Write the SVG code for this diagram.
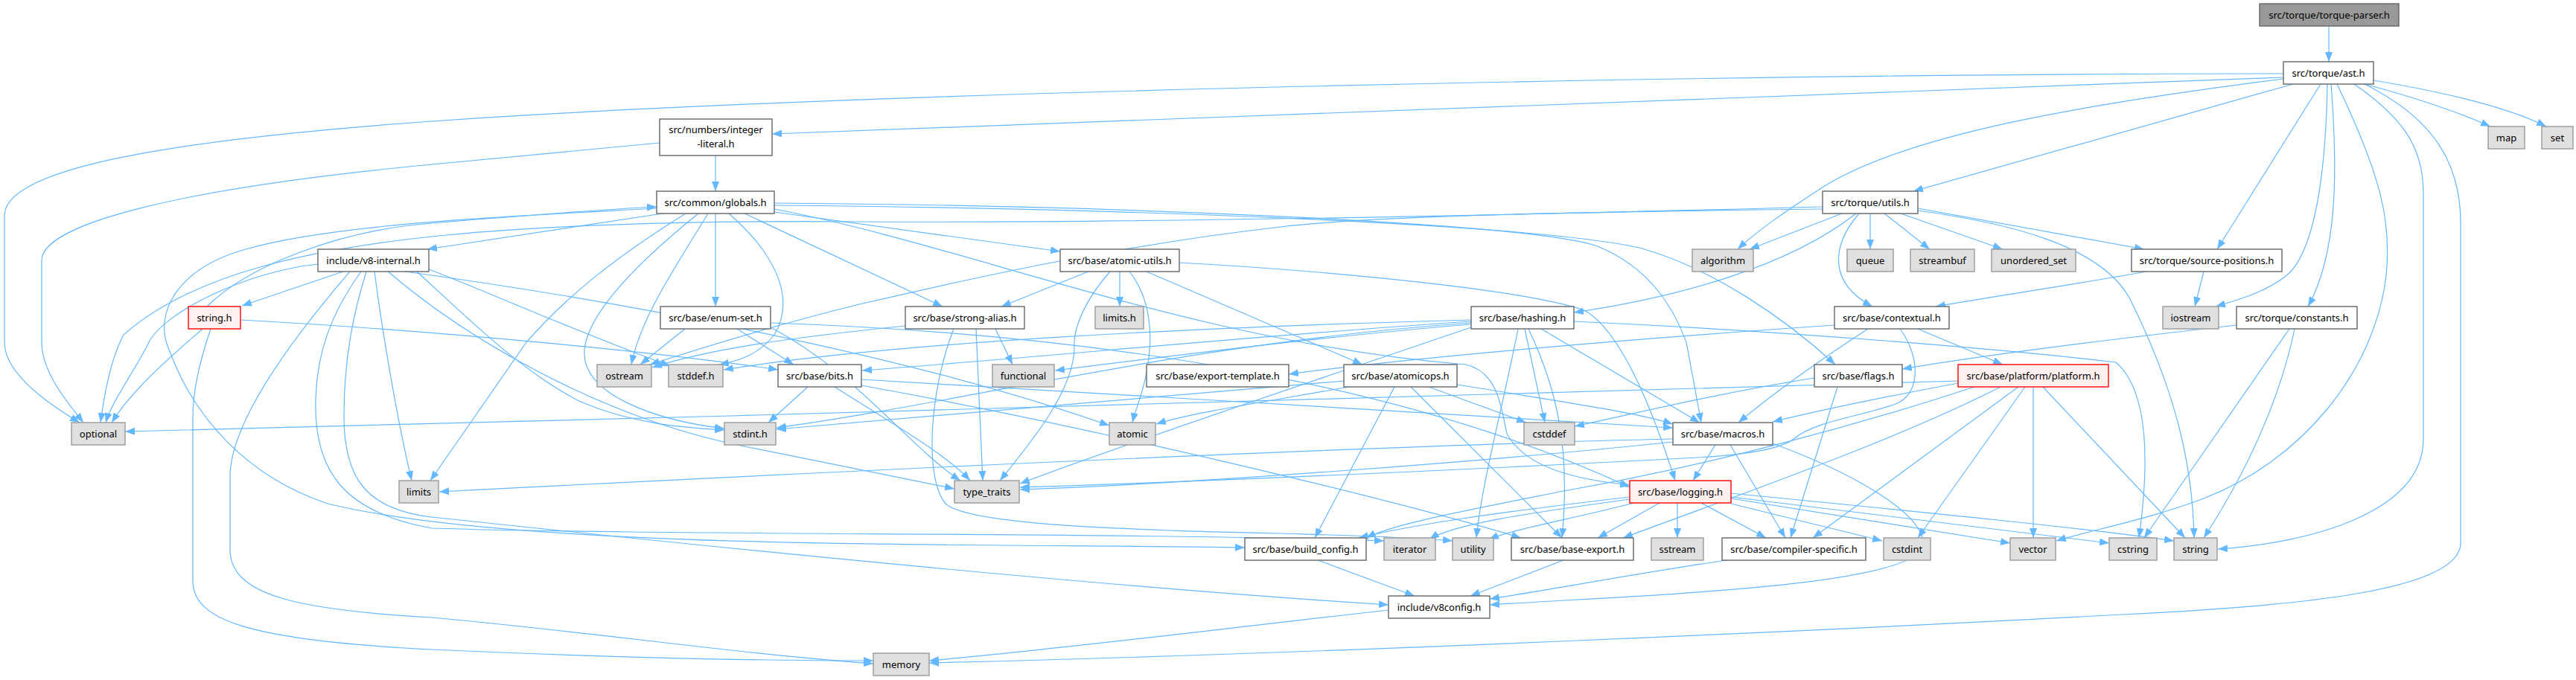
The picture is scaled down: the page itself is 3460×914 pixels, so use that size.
<svg xmlns="http://www.w3.org/2000/svg" width="3460" height="914" viewBox="0 0 3460 914">
<defs>
<marker id="a" markerUnits="userSpaceOnUse" viewBox="0 0 13 10" refX="13" refY="5" markerWidth="13" markerHeight="10" orient="auto"><path d="M0,0 L13,5 L0,10 z" fill="#63b8ff"/></marker>
<style>
.e path{fill:none;stroke:#63b8ff;stroke-width:1.2;marker-end:url(#a)}
.n rect{fill:#fff;stroke:#666;stroke-width:1.4}
.s rect{fill:#e0e0e0;stroke:#999;stroke-width:1.4}
.r rect{fill:#fff0f0;stroke:#f00;stroke-width:1.4}
.o rect{fill:#999;stroke:#666;stroke-width:1.4}
text{font-family:"Noto Sans","DejaVu Sans",sans-serif;font-size:13px;fill:#000;text-anchor:middle}
</style>
</defs>
<rect width="3460" height="914" fill="#fff"/>
<g id="edges" class="e">
<path d="M3128,35 L3128,83"/>
<path d="M3176,113 C3240,130 3300,150 3345,170"/>
<path d="M3188,108 C3290,125 3370,145 3420,170"/>
<path d="M3117,113 L2978,335"/>
<path d="M3126,113 C3124,230 3110,330 3076,366 C3050,390 3010,402 2976,412"/>
<path d="M3131,113 C3140,230 3140,340 3100,412"/>
<path d="M3139,113 C3200,240 3212,300 3205,370 C3190,500 3090,620 2960,670 C2880,700 2810,712 2762,727"/>
<path d="M3162,113 C3230,160 3255,200 3255,260 L3255,590 C3255,690 3100,730 2979,738"/>
<path d="M3176,113 C3270,160 3305,220 3305,300 L3305,730 C3305,795 3080,815 2850,826 C2500,845 1800,878 1248,891"/>
<path d="M3067,106 C2800,140 2560,180 2446,253 C2400,283 2360,310 2334,335"/>
<path d="M3080,113 L2570,257"/>
<path d="M3067,104 L1037,180"/>
<path d="M3067,99 C2400,99 1200,120 580,163 C200,190 6,230 6,290 L6,460 C6,500 60,540 107,568"/>
<path d="M886,192 L580,221 C250,252 56,300 56,350 L56,460 C56,500 90,540 112,568"/>
<path d="M961,209 L961,257"/>
<path d="M890,287 L574,335"/>
<path d="M961,287 L961,412"/>
<path d="M938,287 C860,350 790,420 785,470 C780,530 880,565 973,576"/>
<path d="M951,287 C900,370 860,430 848,490"/>
<path d="M921,287 C820,350 760,400 707,460 L578,646"/>
<path d="M979,287 C1040,340 1070,400 1040,450 C1020,475 995,485 966,490"/>
<path d="M1000,287 L1266,412"/>
<path d="M1040,285 L1424,338"/>
<path d="M1040,276 C1500,280 2050,300 2202,333 C2300,360 2400,430 2465,490"/>
<path d="M1040,273 C1500,276 2050,300 2143,330 C2220,360 2250,420 2265,460 L2285,568"/>
<path d="M1040,281 C1300,330 1600,460 1969,490 C2010,500 2015,540 2024,583 C2050,630 2120,645 2189,652"/>
<path d="M882,280 C700,290 450,300 330,335 C240,360 205,420 227,470 C260,560 330,640 440,677 C700,740 1300,730 1672,736"/>
<path d="M2474,287 L2350,335"/>
<path d="M2512,287 L2512,335"/>
<path d="M2531,287 L2592,335"/>
<path d="M2553,287 L2690,335"/>
<path d="M2497,287 C2460,330 2455,380 2515,412"/>
<path d="M2576,280 L2880,335"/>
<path d="M2576,283 C2700,300 2820,330 2860,400 C2920,520 2945,620 2947,723"/>
<path d="M2493,287 C2400,360 2250,400 2114,420"/>
<path d="M2448,278 C2000,290 1500,300 1150,298 C900,296 700,305 580,318 C420,335 260,367 166,450 C150,480 140,530 135,568"/>
<path d="M2448,281 C2100,285 1850,290 1720,305 C1500,330 1300,375 1150,410 C1050,435 950,465 873,490"/>
<path d="M461,365 L325,411"/>
<path d="M427,355 C330,365 220,420 200,460 C180,500 150,540 142,568"/>
<path d="M576,362 C650,390 760,440 900,492"/>
<path d="M560,365 C620,420 700,500 780,540 C850,570 920,575 973,578"/>
<path d="M544,365 C800,400 1200,470 1490,572"/>
<path d="M485,365 C460,400 430,450 425,520 C415,640 470,690 580,710 C900,720 1500,715 1859,727"/>
<path d="M492,365 C475,420 462,480 462,560 C462,640 490,685 580,695 C1000,740 1500,790 1865,813"/>
<path d="M470,365 C440,400 310,550 309,640 L309,740 C310,800 400,820 580,830 C800,850 1000,880 1173,892"/>
<path d="M503,365 C510,420 530,550 553,646"/>
<path d="M520,364 C620,450 800,560 1000,600 C1100,620 1200,640 1282,657"/>
<path d="M278,412 C330,360 450,310 580,300 C700,290 800,282 882,278"/>
<path d="M272,442 C240,470 180,520 150,568"/>
<path d="M283,442 C270,480 259,520 259,560 L259,780 C259,830 320,860 580,873 C800,883 1000,888 1173,888"/>
<path d="M323,430 C600,445 900,475 1045,497"/>
<path d="M920,442 L860,490"/>
<path d="M990,442 L1066,490"/>
<path d="M1035,440 C1150,500 1220,600 1290,646"/>
<path d="M1035,434 C1500,450 1900,520 2189,655"/>
<path d="M1337,442 L1360,490"/>
<path d="M1311,442 L1320,646"/>
<path d="M1216,438 C1050,455 950,470 876,494"/>
<path d="M1281,442 C1250,520 1240,640 1270,677 C1300,705 1500,712 1720,717 C1820,720 1900,722 1951,727"/>
<path d="M1462,365 L1345,412"/>
<path d="M1504,365 L1504,412"/>
<path d="M1517,365 C1545,400 1550,450 1540,500 C1535,530 1525,550 1521,568"/>
<path d="M1491,365 C1460,400 1440,440 1443,470 C1440,530 1380,600 1343,646"/>
<path d="M1540,365 L1830,490"/>
<path d="M1584,353 C1800,365 2050,390 2128,417 C2170,440 2210,520 2250,646"/>
<path d="M1976,430 C1600,440 1200,460 972,497"/>
<path d="M1976,434 C1600,460 1300,540 1043,575"/>
<path d="M1976,432 C1700,450 1400,480 1158,498"/>
<path d="M1976,436 C1800,450 1600,475 1417,498"/>
<path d="M1976,440 C1800,500 1500,600 1370,650"/>
<path d="M2048,442 L2075,568"/>
<path d="M2039,442 C2020,540 1990,650 1983,723"/>
<path d="M2053,442 C2090,520 2110,600 2098,723"/>
<path d="M2070,442 L2283,568"/>
<path d="M2114,432 C2400,445 2700,470 2842,487 C2880,520 2890,600 2873,723"/>
<path d="M2464,437 C2200,455 1900,480 1731,503"/>
<path d="M2509,442 C2450,480 2380,530 2335,568"/>
<path d="M2576,442 L2690,490"/>
<path d="M2552,442 C2580,480 2580,530 2546,543 C2500,560 2440,565 2409,590 C2390,606 2330,612 2280,615 C2000,630 1600,648 1370,655"/>
<path d="M2960,365 L2948,412"/>
<path d="M2883,365 C2800,380 2700,395 2600,412"/>
<path d="M3004,437 C2800,460 2650,480 2555,496"/>
<path d="M3075,442 L2880,723"/>
<path d="M3082,442 C3070,500 3040,600 2960,723"/>
<path d="M1805,512 C1500,540 1200,565 1043,577"/>
<path d="M1812,520 C1700,540 1600,555 1553,570"/>
<path d="M1873,520 L1766,723"/>
<path d="M1895,520 L2098,723"/>
<path d="M1919,520 L2050,568"/>
<path d="M1957,517 C2100,540 2200,555 2247,570"/>
<path d="M1085,520 L1032,568"/>
<path d="M1121,520 C1200,570 1270,610 1303,646"/>
<path d="M1157,510 C1500,530 2000,560 2247,575"/>
<path d="M1157,518 C1500,580 1900,680 2043,723"/>
<path d="M2437,508 C2300,530 2200,555 2115,573"/>
<path d="M2468,520 L2405,723"/>
<path d="M2630,512 C2000,530 1000,560 168,580"/>
<path d="M2630,515 C2550,530 2450,550 2381,567"/>
<path d="M2652,520 C2500,570 2300,625 2100,660 C1950,690 1870,705 1835,723"/>
<path d="M2687,520 C2550,590 2350,660 2180,723"/>
<path d="M2711,520 L2435,723"/>
<path d="M2720,520 L2576,723"/>
<path d="M2731,520 L2731,723"/>
<path d="M2744,520 L2935,723"/>
<path d="M2247,590 C1800,600 1000,640 590,661"/>
<path d="M2247,594 C2000,620 1600,650 1370,658"/>
<path d="M2304,598 L2274,646"/>
<path d="M2324,598 L2398,723"/>
<path d="M2381,596 C2500,640 2600,700 2580,740 C2540,790 2200,800 2001,813"/>
<path d="M2189,668 C2000,690 1900,705 1825,723"/>
<path d="M2189,671 C2050,690 1950,705 1920,725"/>
<path d="M2195,676 C2100,700 2030,712 2000,725"/>
<path d="M2229,676 L2146,723"/>
<path d="M2253,676 L2253,723"/>
<path d="M2285,676 L2372,723"/>
<path d="M2325,677 L2528,727"/>
<path d="M2325,670 L2700,730"/>
<path d="M2325,668 L2833,730"/>
<path d="M2325,663 C2600,690 2800,710 2920,727"/>
<path d="M2320,753 C2200,770 2100,790 2001,805"/>
<path d="M2100,753 L1975,801"/>
<path d="M1770,753 L1900,801"/>
<path d="M1865,820 C1600,850 1400,875 1248,888"/>
</g>
<g id="n_parser" class="o"><rect x="3035" y="5" width="187" height="30"/><text x="3128.5" y="24.5">src/torque/torque-parser.h</text></g>
<g id="n_ast" class="n"><rect x="3067" y="83" width="121" height="30"/><text x="3127.5" y="102.5">src/torque/ast.h</text></g>
<g id="n_intlit" class="n"><rect x="886" y="160" width="151" height="49"/><text x="961.5" y="178.5">src/numbers/integer</text><text x="961.5" y="197.5">-literal.h</text></g>
<g id="n_map" class="s"><rect x="3342" y="170" width="49" height="30"/><text x="3366.5" y="189.5">map</text></g>
<g id="n_set" class="s"><rect x="3414" y="170" width="42" height="30"/><text x="3435" y="189.5">set</text></g>
<g id="n_globals" class="n"><rect x="882" y="257" width="158" height="30"/><text x="961" y="276.5">src/common/globals.h</text></g>
<g id="n_utils" class="n"><rect x="2448" y="257" width="128" height="30"/><text x="2512" y="276.5">src/torque/utils.h</text></g>
<g id="n_v8int" class="n"><rect x="427" y="335" width="149" height="30"/><text x="501.5" y="354.5">include/v8-internal.h</text></g>
<g id="n_atomicutils" class="n"><rect x="1424" y="335" width="160" height="30"/><text x="1504" y="354.5">src/base/atomic-utils.h</text></g>
<g id="n_algorithm" class="s"><rect x="2273" y="335" width="82" height="30"/><text x="2314" y="354.5">algorithm</text></g>
<g id="n_queue" class="s"><rect x="2481" y="335" width="62" height="30"/><text x="2512" y="354.5">queue</text></g>
<g id="n_streambuf" class="s"><rect x="2566" y="335" width="86" height="30"/><text x="2609" y="354.5">streambuf</text></g>
<g id="n_unordered_set" class="s"><rect x="2675" y="335" width="113" height="30"/><text x="2731.5" y="354.5">unordered_set</text></g>
<g id="n_srcpos" class="n"><rect x="2863" y="335" width="202" height="30"/><text x="2964" y="354.5">src/torque/source-positions.h</text></g>
<g id="n_stringh" class="r"><rect x="253" y="412" width="70" height="30"/><text x="288" y="431.5">string.h</text></g>
<g id="n_enumset" class="n"><rect x="887" y="412" width="148" height="30"/><text x="961" y="431.5">src/base/enum-set.h</text></g>
<g id="n_strongalias" class="n"><rect x="1216" y="412" width="160" height="30"/><text x="1296" y="431.5">src/base/strong-alias.h</text></g>
<g id="n_limitsh" class="s"><rect x="1471" y="412" width="65" height="30"/><text x="1503.5" y="431.5">limits.h</text></g>
<g id="n_hashing" class="n"><rect x="1976" y="412" width="138" height="30"/><text x="2045" y="431.5">src/base/hashing.h</text></g>
<g id="n_contextual" class="n"><rect x="2464" y="412" width="154" height="30"/><text x="2541" y="431.5">src/base/contextual.h</text></g>
<g id="n_iostream" class="s"><rect x="2905" y="412" width="75" height="30"/><text x="2942.5" y="431.5">iostream</text></g>
<g id="n_constants" class="n"><rect x="3004" y="412" width="162" height="30"/><text x="3085" y="431.5">src/torque/constants.h</text></g>
<g id="n_ostream" class="s"><rect x="802" y="490" width="73" height="30"/><text x="838.5" y="509.5">ostream</text></g>
<g id="n_stddef" class="s"><rect x="898" y="490" width="73" height="30"/><text x="934.5" y="509.5">stddef.h</text></g>
<g id="n_bits" class="n"><rect x="1045" y="490" width="112" height="30"/><text x="1101" y="509.5">src/base/bits.h</text></g>
<g id="n_functional" class="s"><rect x="1333" y="490" width="83" height="30"/><text x="1374.5" y="509.5">functional</text></g>
<g id="n_exporttpl" class="n"><rect x="1540" y="490" width="191" height="30"/><text x="1635.5" y="509.5">src/base/export-template.h</text></g>
<g id="n_atomicops" class="n"><rect x="1805" y="490" width="152" height="30"/><text x="1881" y="509.5">src/base/atomicops.h</text></g>
<g id="n_flags" class="n"><rect x="2437" y="490" width="118" height="30"/><text x="2496" y="509.5">src/base/flags.h</text></g>
<g id="n_platform" class="r"><rect x="2630" y="490" width="202" height="30"/><text x="2731" y="509.5">src/base/platform/platform.h</text></g>
<g id="n_optional" class="s"><rect x="96" y="568" width="72" height="30"/><text x="132" y="587.5">optional</text></g>
<g id="n_stdint" class="s"><rect x="973" y="568" width="69" height="30"/><text x="1007.5" y="587.5">stdint.h</text></g>
<g id="n_atomic" class="s"><rect x="1490" y="568" width="62" height="30"/><text x="1521" y="587.5">atomic</text></g>
<g id="n_cstddef" class="s"><rect x="2047" y="568" width="68" height="30"/><text x="2081" y="587.5">cstddef</text></g>
<g id="n_macros" class="n"><rect x="2247" y="568" width="134" height="30"/><text x="2314" y="587.5">src/base/macros.h</text></g>
<g id="n_limits" class="s"><rect x="536" y="646" width="53" height="30"/><text x="562.5" y="665.5">limits</text></g>
<g id="n_type_traits" class="s"><rect x="1282" y="646" width="87" height="30"/><text x="1325.5" y="665.5">type_traits</text></g>
<g id="n_logging" class="r"><rect x="2189" y="646" width="136" height="30"/><text x="2257" y="665.5">src/base/logging.h</text></g>
<g id="n_build_config" class="n"><rect x="1672" y="723" width="163" height="30"/><text x="1753.5" y="742.5">src/base/build_config.h</text></g>
<g id="n_iterator" class="s"><rect x="1859" y="723" width="69" height="30"/><text x="1893.5" y="742.5">iterator</text></g>
<g id="n_utility" class="s"><rect x="1951" y="723" width="55" height="30"/><text x="1978.5" y="742.5">utility</text></g>
<g id="n_baseexport" class="n"><rect x="2030" y="723" width="164" height="30"/><text x="2112" y="742.5">src/base/base-export.h</text></g>
<g id="n_sstream" class="s"><rect x="2218" y="723" width="70" height="30"/><text x="2253" y="742.5">sstream</text></g>
<g id="n_compiler" class="n"><rect x="2313" y="723" width="193" height="30"/><text x="2409.5" y="742.5">src/base/compiler-specific.h</text></g>
<g id="n_cstdint" class="s"><rect x="2530" y="723" width="63" height="30"/><text x="2561.5" y="742.5">cstdint</text></g>
<g id="n_vector" class="s"><rect x="2700" y="723" width="61" height="30"/><text x="2730.5" y="742.5">vector</text></g>
<g id="n_cstring" class="s"><rect x="2833" y="723" width="64" height="30"/><text x="2865" y="742.5">cstring</text></g>
<g id="n_string" class="s"><rect x="2920" y="723" width="58" height="30"/><text x="2949" y="742.5">string</text></g>
<g id="n_v8config" class="n"><rect x="1865" y="801" width="136" height="30"/><text x="1933" y="820.5">include/v8config.h</text></g>
<g id="n_memory" class="s"><rect x="1173" y="878" width="75" height="30"/><text x="1210.5" y="897.5">memory</text></g>
</svg>
